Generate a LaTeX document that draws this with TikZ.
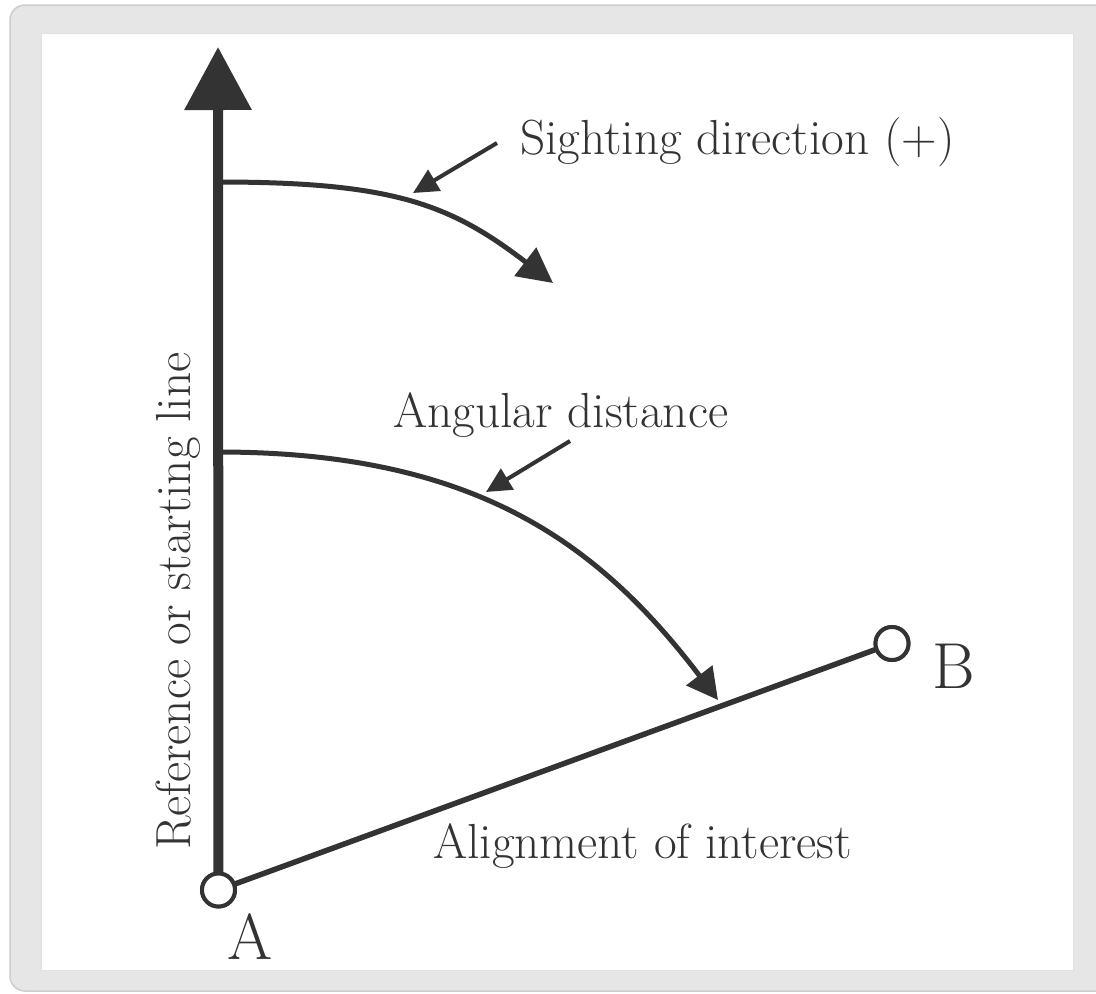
\documentclass[tikz,border=0pt]{standalone}
\usepackage{fontspec}
\usepackage{tikz}
\usetikzlibrary{arrows.meta,positioning}
\definecolor{ink}{HTML}{333333}
\definecolor{framegray}{HTML}{E6E6E6}
\definecolor{frameedge}{HTML}{CDCDCD}
\newcommand{\lblfont}{\fontsize{49.3}{58}\selectfont}
\newcommand{\ptfont}{\fontsize{65}{72}\selectfont}

\begin{document}
\begin{tikzpicture}[
  x=1pt, y=-1pt,
  lbl/.style={inner sep=0pt, text=ink, font=\lblfont},
  ptlbl/.style={inner sep=0pt, text=ink, font=\ptfont},
  station/.style={circle, draw=ink, line width=4pt, fill=white, minimum size=33pt, inner sep=0pt},
  refline/.style={draw=ink, line width=10pt, -{Triangle[length=63pt,width=65pt]}},
  sweep/.style={draw=ink, line width=5pt},
  pointer/.style={draw=ink, line width=4pt, -{Triangle[length=25pt,width=24pt]}}
]
\useasboundingbox (0,0) rectangle (1096,994);
\begin{scope}
  \clip (0,0) rectangle (1096,994);
  \fill[framegray, draw=frameedge, line width=1.5pt, rounded corners=15pt] (10,5) rectangle (1112,991);
  \fill[white, draw=frameedge!60, line width=0.8pt] (41,33) rectangle (1073,970);
\end{scope}

\coordinate (tip) at (218,47);
\coordinate (sweepA) at (218,182);
\coordinate (sweepB) at (218,452);
\coordinate (endA) at (553,283);
\coordinate (endB) at (718,700);

\node[station] (ptA) at (218.5,890) {};
\node[station] (ptB) at (892,643.5) {};

\draw[refline] (ptA.center) -- (tip);
\draw[draw=ink, line width=5.5pt] (ptA.center) -- (ptB.center);
\node[station] at (ptA) {};
\node[station] at (ptB) {};

\draw[sweep, -{Triangle[length=35pt,width=35pt]}] (sweepA) .. controls (393,182) and (450,204) .. (endA);
\draw[sweep, -{Triangle[length=31pt,width=32pt]}] (sweepB) .. controls (473,452) and (597,541) .. (endB);

\node[lbl, anchor=base west] (sight) at (520,154) {Sighting direction (+)};
\node[lbl, anchor=base west] (angdist) at (393,427) {Angular distance};
\node[lbl, anchor=base west] (align) at (433,858) {Alignment of interest};
\node[lbl, anchor=base west, rotate=90] (refl) at (190,850) {Reference or starting line};

\coordinate (fromS) at (497,143);
\coordinate (toS) at (413,193);
\coordinate (fromD) at (570,441);
\coordinate (toD) at (486,492);
\draw[pointer] (fromS) -- (toS);
\draw[pointer] (fromD) -- (toD);

\node[ptlbl, anchor=base] (labA) at (250,959) {A};
\node[ptlbl, anchor=base west] (labB) at (932,688) {B};
\end{tikzpicture}
\end{document}
